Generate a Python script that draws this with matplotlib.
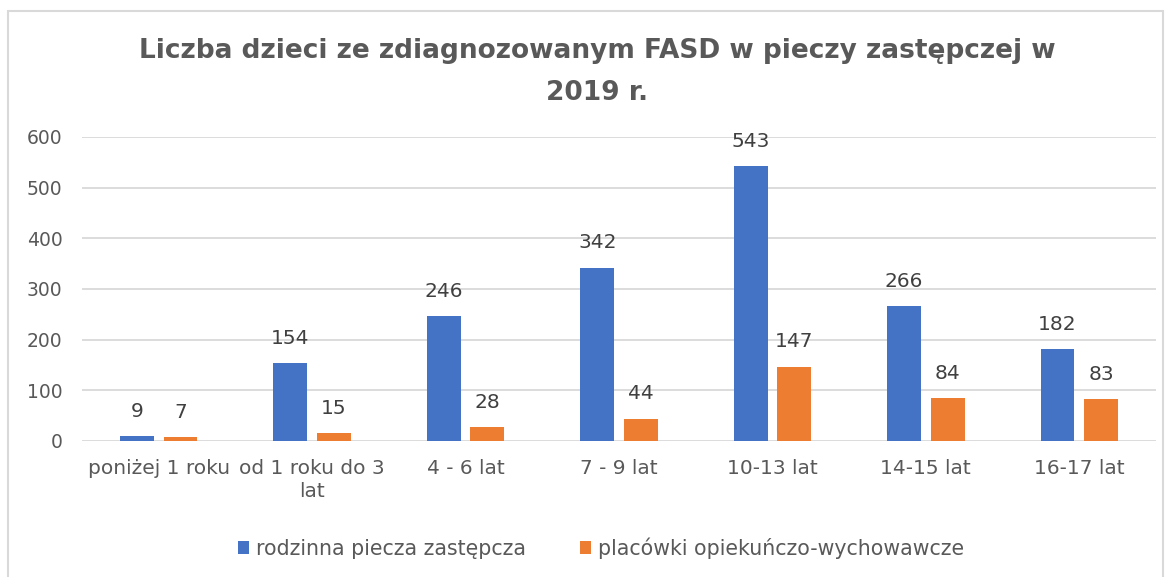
import numpy as np
import matplotlib
matplotlib.use("Agg")
from matplotlib import pyplot as plt
from matplotlib.patches import Rectangle

# data
categories = ["poniżej 1 roku", "od 1 roku do 3\nlat", "4 - 6 lat", "7 - 9 lat",
              "10-13 lat", "14-15 lat", "16-17 lat"]
rodzinna = [9, 154, 246, 342, 543, 266, 182]
placowki = [7, 15, 28, 44, 147, 84, 83]
series_names = ["rodzinna piecza zastępcza", "placówki opiekuńczo-wychowawcze"]
title = "Liczba dzieci ze zdiagnozowanym FASD w pieczy zastępczej w\n2019 r."

BLUE = "#4472C4"
ORANGE = "#ED7D31"
GREY = "#595959"
GRID = "#D9D9D9"
W, H = 1173, 577

plt.rcParams['font.family'] = ['DejaVu Sans']
fig = plt.figure(figsize=(W / 100, H / 100), dpi=100)
ax = fig.add_axes([82 / W, 1 - 441 / H, (1156 - 82) / W, (441 - 137) / H])

x = np.arange(len(categories))
bw = 0.22
off = 0.142
b1 = ax.bar(x - off, rodzinna, bw, color=BLUE, label=series_names[0], zorder=3)
b2 = ax.bar(x + off, placowki, bw, color=ORANGE, label=series_names[1], zorder=3)
for bars in (b1, b2):
    ax.bar_label(bars, padding=11, fontsize=14.5, color="#404040")

ax.set_xlim(-0.5, len(categories) - 0.5)
ax.set_ylim(0, 600)
ax.set_yticks(np.arange(0, 601, 100))
ax.yaxis.grid(True, color=GRID, linewidth=1.3, zorder=0)
ax.set_axisbelow(True)
for s in ax.spines.values():
    s.set_visible(False)
ax.tick_params(axis='y', length=0, pad=14, labelsize=13.5, labelcolor=GREY)
ax.set_xticks(x)
ax.set_xticklabels(categories, linespacing=1.25)
ax.tick_params(axis='x', length=0, pad=13, labelsize=14.5, labelcolor=GREY)

fig.text(597 / W, 1 - 72 / H, title, ha='center', va='center', fontsize=19,
         fontweight='bold', color=GREY, linespacing=1.75)

fig.legend(loc='center', bbox_to_anchor=(601 / W, 1 - 548 / H), ncol=2,
           frameon=False, fontsize=14.8, labelcolor=GREY, handlelength=0.55,
           handleheight=0.55, handletextpad=0.35, columnspacing=2.6)

# chart-area frame
fig.patches.append(Rectangle((8 / W, -0.05), (1163 - 8) / W, 1 - 11 / H + 0.05,
                             transform=fig.transFigure, fill=False,
                             edgecolor=GRID, linewidth=1.5))

fig.savefig("out.png", dpi=100)
